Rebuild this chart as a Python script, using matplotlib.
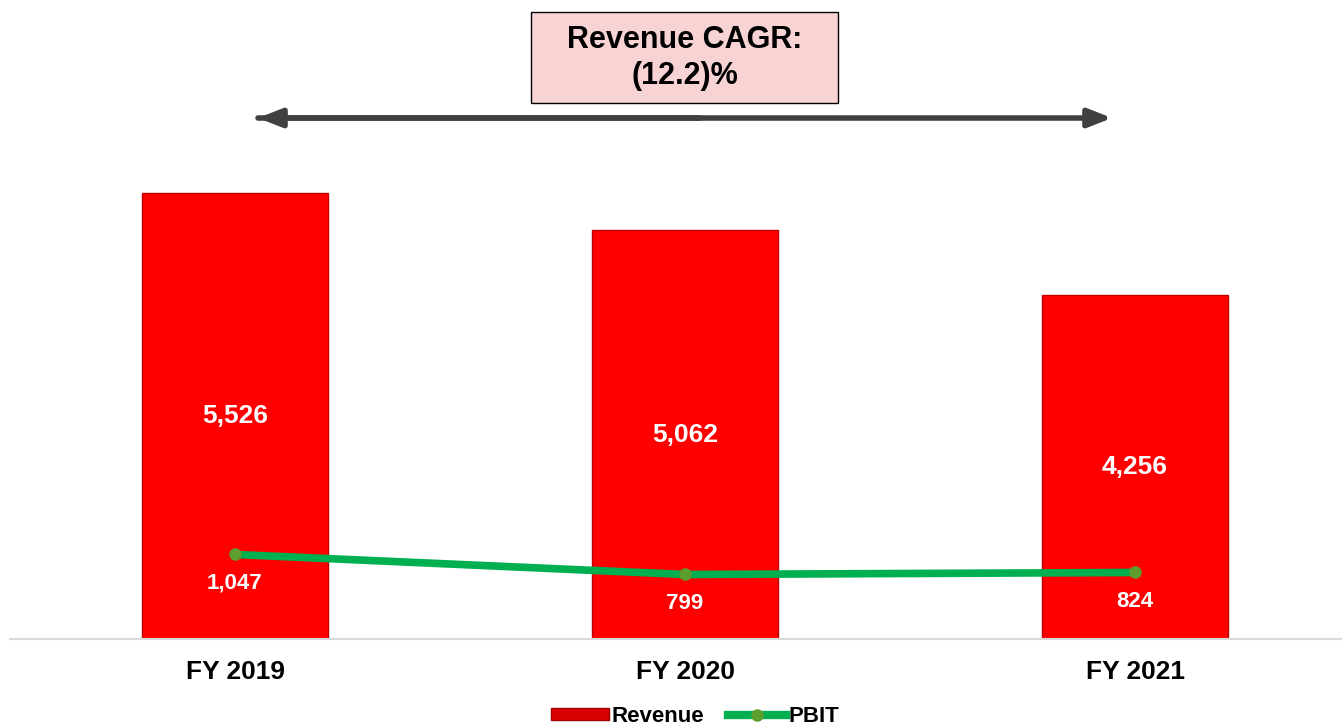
import matplotlib
matplotlib.use("Agg")
import matplotlib.pyplot as plt
from matplotlib.patches import Patch
from matplotlib.lines import Line2D

years = ["FY 2019", "FY 2020", "FY 2021"]
revenue = [5526, 5062, 4256]
pbit = [1047, 799, 824]
cagr_text = "Revenue CAGR:\n(12.2)%"

plt.rcParams['font.family'] = ['Liberation Sans', 'DejaVu Sans']

W, H = 1342, 728
fig = plt.figure(figsize=(W / 100, H / 100), dpi=100)
ax = fig.add_axes([10 / W, 89 / H, 1332 / W, 549 / H])

x = range(len(years))
bars = ax.bar(x, revenue, width=0.415, color="#fe0000", edgecolor="#c00000", linewidth=1.0, zorder=2)
ax.plot(x, pbit, color="#00b050", linewidth=5.5, marker="o", markersize=8,
        markerfacecolor="#5e9e2e", markeredgecolor="#5e9e2e", zorder=3, solid_capstyle="round")

for i, v in enumerate(revenue):
    ax.text(i, v / 2, f"{v:,}", ha="center", va="center", color="white",
            fontsize=19, fontweight="bold", zorder=4)
for i, v in enumerate(pbit):
    ax.annotate(f"{v:,}", (i, v), xytext=(0, -29), textcoords="offset pixels",
                ha="center", va="center", color="white", fontsize=16, fontweight="bold", zorder=4)

ax.set_xlim(-0.5, 2.46)
ax.set_ylim(0, 6800)
for s in ["top", "right", "left"]:
    ax.spines[s].set_visible(False)
ax.spines["bottom"].set_color("#d9d9d9")
ax.spines["bottom"].set_linewidth(1.5)
ax.set_yticks([])
ax.set_xticks(list(x))
ax.set_xticklabels(years, fontsize=19, fontweight="bold")
ax.tick_params(axis="x", length=0, pad=15)

# CAGR arrow and box
fig.patches.append(plt.Rectangle((531 / W, 1 - 103 / H), 307 / W, 91 / H, transform=fig.transFigure,
                                 facecolor="#f8d3d3", edgecolor="black", linewidth=1))
fig.text(684.5 / W, 1 - 58 / H, cagr_text, ha="center", va="center", fontsize=22,
         fontweight="bold", linespacing=1.3)
ax.annotate("", xy=(1112 / W, 1 - 118 / H), xytext=(258 / W, 1 - 118 / H),
            xycoords="figure fraction", textcoords="figure fraction",
            arrowprops=dict(arrowstyle="-|>,head_length=1.4,head_width=0.55", color="#404040",
                            linewidth=4, shrinkA=0, shrinkB=0))
ax.annotate("", xy=(258 / W, 1 - 118 / H), xytext=(700 / W, 1 - 118 / H),
            xycoords="figure fraction", textcoords="figure fraction",
            arrowprops=dict(arrowstyle="-|>,head_length=1.4,head_width=0.55", color="#404040",
                            linewidth=4, shrinkA=0, shrinkB=0))

handles = [Patch(facecolor="#d80000", edgecolor="#a00000", label="Revenue"),
           Line2D([0], [0], color="#00b050", linewidth=6, marker="o", markersize=8,
                  markerfacecolor="#5e9e2e", markeredgecolor="#5e9e2e", label="PBIT")]
fig.legend(handles=handles, loc="center", bbox_to_anchor=(695 / W, 1 - 716 / H), ncol=2,
           frameon=False, prop=dict(size=16, weight="bold"), handlelength=2.6,
           handleheight=0.45, handletextpad=0.1, columnspacing=1.1)

fig.savefig("out.png", dpi=100)
